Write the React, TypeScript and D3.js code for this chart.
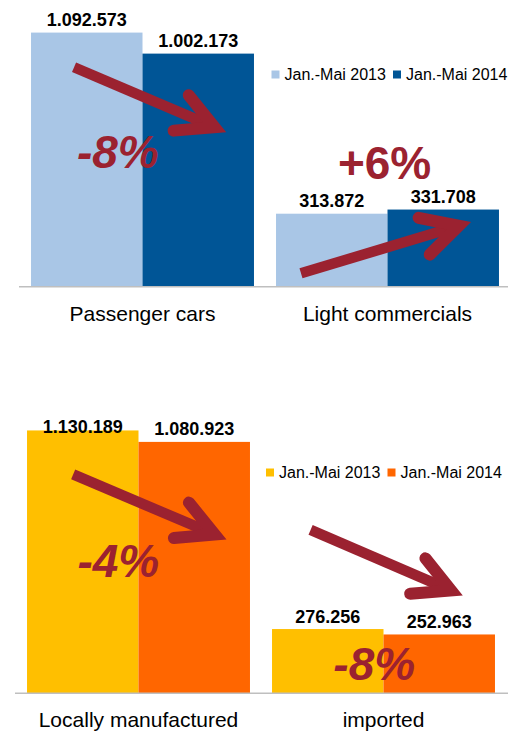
import React from "react";
import * as d3 from "d3";

// ---------- data ----------
const seriesNames = ["Jan.-Mai 2013", "Jan.-Mai 2014"];

const categoriesTop = ["Passenger cars", "Light commercials"];
const valuesTop2013 = [1092573, 313872];
const valuesTop2014 = [1002173, 331708];
const changesTop = ["-8%", "+6%"];

const categoriesBottom = ["Locally manufactured", "imported"];
const valuesBottom2013 = [1130189, 276256];
const valuesBottom2014 = [1080923, 252963];
const changesBottom = ["-4%", "-8%"];

// ---------- styling / layout ----------
const FONT = "'Liberation Sans', Arial, Helvetica, sans-serif";
const ARROW_COLOR = "#9B2230";
const W = 508;
const H = 731;
const Y_MAX = 1200000;
const Y_HEIGHT = 279.1; // pixels for Y_MAX

const fmt = d3.formatLocale({
  decimal: ",",
  thousands: ".",
  grouping: [3],
  currency: ["", "€"],
}).format(",d");

type Arrow = { sCat: number; sFrac: number; sVal: number; tCat: number; tFrac: number; tVal: number };
type Pct = { cat: number; frac: number; val: number; anchor: string; italic: boolean };

type PanelProps = {
  categories: string[];
  s2013: number[];
  s2014: number[];
  changes: string[];
  colors: string[];
  baseline: number;
  xRange: [number, number];
  axisStart: number;
  labelMinY: number;
  legendX: number;
  legendY: number;
  arrows: Arrow[];
  pcts: Pct[];
};

function arrowPaths(sx: number, sy: number, tx: number, ty: number) {
  const dx = tx - sx;
  const dy = ty - sy;
  const len = Math.hypot(dx, dy);
  const ux = dx / len;
  const uy = dy / len;
  const back = Math.atan2(-uy, -ux);
  const half = (28 * Math.PI) / 180;
  const hl = 41;
  const a1 = back + half;
  const a2 = back - half;
  const w1 = [tx + hl * Math.cos(a1), ty + hl * Math.sin(a1)];
  const w2 = [tx + hl * Math.cos(a2), ty + hl * Math.sin(a2)];
  const shaft = `M${sx},${sy}L${tx},${ty}`;
  const head = `M${w1[0]},${w1[1]}L${tx},${ty}L${w2[0]},${w2[1]}`;
  return { shaft, head };
}

function Panel(p: PanelProps) {
  const x0 = d3
    .scaleBand<string>()
    .domain(p.categories)
    .range(p.xRange)
    .paddingInner(0.09)
    .paddingOuter(0.045);
  const x1 = d3.scaleBand<string>().domain(seriesNames).range([0, x0.bandwidth()]).padding(0);
  const y = d3.scaleLinear().domain([0, Y_MAX]).range([p.baseline, p.baseline - Y_HEIGHT]);
  const series = [p.s2013, p.s2014];

  const fx = (cat: number, frac: number) => (x0(p.categories[cat]) as number) + frac * x0.bandwidth();

  return (
    <g>
      {p.categories.map((c, ci) =>
        seriesNames.map((s, si) => {
          const v = series[si][ci];
          const bx = (x0(c) as number) + (x1(s) as number);
          return (
            <rect
              key={c + s}
              x={bx}
              y={y(v)}
              width={x1.bandwidth()}
              height={p.baseline - y(v)}
              fill={p.colors[si]}
            />
          );
        })
      )}
      <line
        x1={p.axisStart}
        x2={W}
        y1={p.baseline}
        y2={p.baseline}
        stroke="#BFBFBF"
        strokeWidth={1.5}
      />
      {p.categories.map((c, ci) =>
        seriesNames.map((s, si) => {
          const v = series[si][ci];
          const cx = (x0(c) as number) + (x1(s) as number) + x1.bandwidth() / 2;
          return (
            <text
              key={"l" + c + s}
              x={cx}
              y={Math.max(y(v) - 6.5, p.labelMinY)}
              textAnchor="middle"
              fontFamily={FONT}
              fontWeight="bold"
              fontSize={18}
              fill="#000"
            >
              {fmt(v)}
            </text>
          );
        })
      )}
      {p.categories.map((c) => (
        <text
          key={"c" + c}
          x={(x0(c) as number) + x0.bandwidth() / 2}
          y={p.baseline + 33.8}
          textAnchor="middle"
          fontFamily={FONT}
          fontSize={21}
          fill="#000"
        >
          {c}
        </text>
      ))}
      {seriesNames.map((s, si) => (
        <g key={"lg" + s} transform={`translate(${p.legendX + si * 121.5},${p.legendY})`}>
          <rect x={0} y={-9} width={8} height={8} fill={p.colors[si]} />
          <text x={13} y={0} fontFamily={FONT} fontSize={16} fill="#000">
            {s}
          </text>
        </g>
      ))}
      {p.arrows.map((a, i) => {
        const { shaft, head } = arrowPaths(fx(a.sCat, a.sFrac), y(a.sVal), fx(a.tCat, a.tFrac), y(a.tVal));
        return (
          <g key={"a" + i}>
            <path d={shaft} stroke={ARROW_COLOR} strokeWidth={10.5} fill="none" strokeLinecap="butt" />
            <path
              d={head}
              stroke={ARROW_COLOR}
              strokeWidth={12}
              fill="none"
              strokeLinecap="round"
              strokeLinejoin="miter"
              strokeMiterlimit={10}
            />
          </g>
        );
      })}
      {p.pcts.map((q, i) => (
        <text
          key={"p" + i}
          x={fx(q.cat, q.frac)}
          y={y(q.val)}
          textAnchor={q.anchor}
          fontFamily={FONT}
          fontWeight="bold"
          fontStyle={q.italic ? "italic" : "normal"}
          fontSize={46}
          fill={ARROW_COLOR}
        >
          {p.changes[i]}
        </text>
      ))}
    </g>
  );
}

export default function App() {
  return (
    <svg
      width={W}
      height={H}
      viewBox={`0 0 ${W} ${H}`}
      style={{ position: "absolute", left: 0, top: 0, background: "#fff" }}
    >
      <rect x={0} y={0} width={W} height={H} fill="#fff" />
      <Panel
        categories={categoriesTop}
        s2013={valuesTop2013}
        s2014={valuesTop2014}
        changes={changesTop}
        colors={["#A9C6E6", "#005596"]}
        baseline={286.7}
        xRange={[20, 510]}
        axisStart={19}
        labelMinY={0}
        legendX={271.5}
        legendY={79.5}
        arrows={[
          { sCat: 0, sFrac: 0.193, sVal: 943700, tCat: 0, tFrac: 0.823, tVal: 686000 },
          { sCat: 1, sFrac: 0.112, sVal: 57560, tCat: 1, tFrac: 0.82, tVal: 262000 },
        ]}
        pcts={[
          { cat: 0, frac: 0.206, val: 510300, anchor: "start", italic: true },
          { cat: 1, frac: 0.487, val: 463000, anchor: "middle", italic: false },
        ]}
      />
      <Panel
        categories={categoriesBottom}
        s2013={valuesBottom2013}
        s2014={valuesBottom2014}
        changes={changesBottom}
        colors={["#FFBF00", "#FF6600"]}
        baseline={693.3}
        xRange={[16, 506]}
        axisStart={15}
        labelMinY={433}
        legendX={266}
        legendY={477.5}
        arrows={[
          { sCat: 0, sFrac: 0.207, sVal: 941000, tCat: 0, tFrac: 0.842, tVal: 683000 },
          { sCat: 1, sFrac: 0.173, sVal: 702400, tCat: 1, tFrac: 0.803, tVal: 442600 },
        ]}
        pcts={[
          { cat: 0, frac: 0.226, val: 502000, anchor: "start", italic: true },
          { cat: 1, frac: 0.275, val: 57200, anchor: "start", italic: true },
        ]}
      />
    </svg>
  );
}
